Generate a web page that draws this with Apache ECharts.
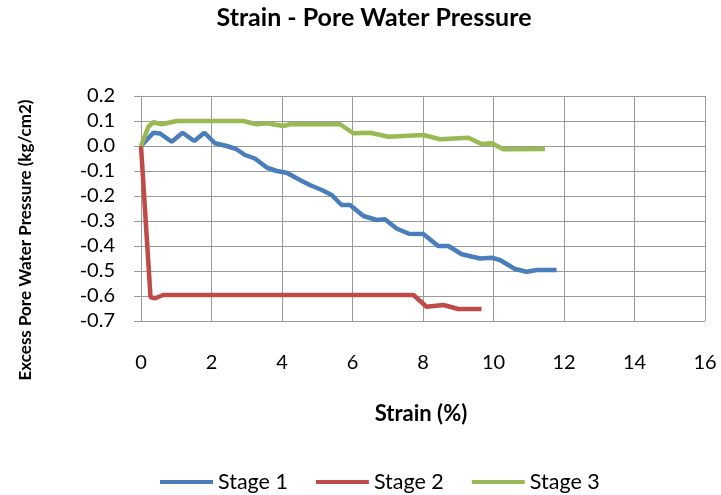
<!DOCTYPE html>
<html>
<head>
<meta charset="utf-8">
<script src="https://cdn.jsdelivr.net/npm/echarts@6/dist/echarts.min.js"></script>
<style>html,body{margin:0;padding:0;background:#fff}#c{width:721px;height:495px}</style>
</head>
<body>
<div id="c"></div>
<script>
const seriesNames = ['Stage 1', 'Stage 2', 'Stage 3'];
const stage1Strain = [0, 0.35, 0.54, 0.87, 1.18, 1.51, 1.80, 2.10, 2.43, 2.70, 2.95, 3.23, 3.58, 3.85, 4.13, 4.51, 4.79, 5.13, 5.41, 5.69, 5.93, 6.31, 6.69, 6.92, 7.25, 7.60, 8.01, 8.43, 8.72, 9.10, 9.62, 9.95, 10.18, 10.61, 10.94, 11.23, 11.79];
const stage1Pwp = [0, 0.053, 0.05, 0.017, 0.053, 0.02, 0.053, 0.011, 0.0, -0.012, -0.036, -0.05, -0.087, -0.1, -0.107, -0.136, -0.156, -0.176, -0.196, -0.236, -0.236, -0.28, -0.296, -0.293, -0.33, -0.351, -0.352, -0.40, -0.40, -0.433, -0.45, -0.447, -0.456, -0.492, -0.503, -0.496, -0.496];
const stage2Strain = [0, 0.27, 0.40, 0.63, 2.0, 4.0, 6.0, 7.73, 8.10, 8.58, 9.0, 9.66];
const stage2Pwp = [0, -0.605, -0.609, -0.596, -0.596, -0.596, -0.596, -0.596, -0.643, -0.636, -0.652, -0.652];
const stage3Strain = [0, 0.21, 0.35, 0.59, 1.01, 2.90, 3.28, 3.57, 4.04, 4.23, 5.65, 6.02, 6.50, 7.02, 8.01, 8.48, 9.29, 9.66, 9.95, 10.28, 11.46];
const stage3Pwp = [0, 0.077, 0.095, 0.087, 0.1, 0.1, 0.087, 0.091, 0.08, 0.087, 0.087, 0.051, 0.053, 0.037, 0.044, 0.027, 0.033, 0.008, 0.011, -0.013, -0.012];
const xTicks = {min: 0, max: 16, interval: 2};
const yTicks = {min: -0.7, max: 0.2, interval: 0.1};
const titleText = 'Strain - Pore Water Pressure';
const xName = 'Strain (%)';
const yName = 'Excess Pore Water Pressure (kg/cm2)';

const colors = ['#4A7EBB', '#BE4B48', '#98B954'];
const FONT = 'Lato, "Open Sans", sans-serif';
function pairs(xs, ys) { return xs.map((x, i) => [x, ys[i]]); }
const chart = echarts.init(document.getElementById('c'), null, {renderer: 'canvas'});
chart.setOption({
  animation: false,
  color: colors,
  grid: {left: 141, top: 96, right: 16, bottom: 174},
  legend: {
    data: seriesNames,
    top: 466, left: 155,
    icon: 'rect', itemWidth: 53, itemHeight: 4, itemGap: 28,
    textStyle: {fontFamily: FONT, fontSize: 21.5, color: '#000'}
  },
  xAxis: {
    type: 'value', min: xTicks.min, max: xTicks.max, interval: xTicks.interval,
    axisLine: {show: false},
    axisTick: {show: false},
    splitLine: {show: true, lineStyle: {color: '#9a9a9a', width: 1}},
    axisLabel: {fontFamily: FONT, fontSize: 20, color: '#000', margin: 32}
  },
  yAxis: {
    type: 'value', min: yTicks.min, max: yTicks.max, interval: yTicks.interval,
    axisLine: {show: true, lineStyle: {color: '#9a9a9a'}},
    axisTick: {show: true, length: 7, lineStyle: {color: '#9a9a9a'}},
    splitLine: {show: true, lineStyle: {color: '#9a9a9a', width: 1}},
    axisLabel: {
      fontFamily: FONT, fontSize: 20, color: '#000', margin: 26,
      formatter: v => { const r = Math.round(v * 10) / 10; return (r === 0 ? 0 : r).toFixed(1); }
    }
  },
  graphic: [
    {type: 'text', x: 374, y: 18, silent: true,
     style: {text: titleText, fontFamily: FONT, fontSize: 25, fontWeight: 'bold', fill: '#000', align: 'center', verticalAlign: 'middle'}},
    {type: 'text', x: 421, y: 414, silent: true,
     style: {text: xName, fontFamily: FONT, fontSize: 22, fontWeight: 'bold', fill: '#000', align: 'center', verticalAlign: 'middle'}},
    {type: 'text', x: 26, y: 240, rotation: Math.PI / 2, silent: true,
     style: {text: yName, fontFamily: FONT, fontSize: 17, fontWeight: 'bold', fill: '#000', align: 'center', verticalAlign: 'middle'}}
  ],
  series: [
    {name: seriesNames[0], type: 'line', data: pairs(stage1Strain, stage1Pwp), showSymbol: false, lineStyle: {width: 4.5}},
    {name: seriesNames[1], type: 'line', data: pairs(stage2Strain, stage2Pwp), showSymbol: false, lineStyle: {width: 4.5}},
    {name: seriesNames[2], type: 'line', data: pairs(stage3Strain, stage3Pwp), showSymbol: false, lineStyle: {width: 4.5}}
  ]
});
</script>
</body>
</html>
